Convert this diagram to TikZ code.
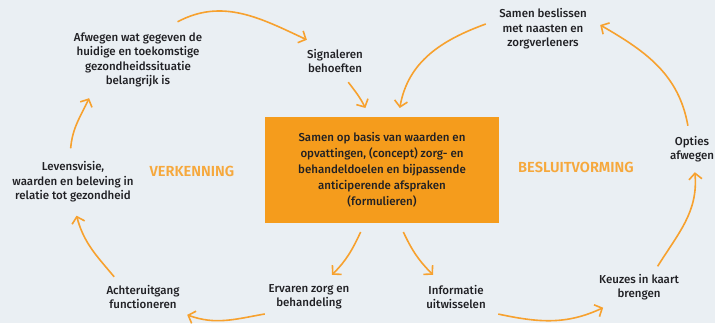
\documentclass[tikz,border=0pt]{standalone}
\usepackage{fontspec}
\setmainfont{Fira Sans}[UprightFont={* Medium}, BoldFont={* SemiBold}]
\usetikzlibrary{arrows.meta}
\definecolor{achtergrond}{HTML}{EAEFF3}
\definecolor{oranje}{HTML}{F59C1C}
\definecolor{pijlkleur}{HTML}{F7A12E}
\definecolor{tekst}{HTML}{202024}
\definecolor{fasekleur}{HTML}{F6A83C}

\begin{document}
\begin{tikzpicture}[x=1bp,y=1bp,
  stap/.style={align=center, inner sep=0pt, text=tekst, font=\fontsize{11.5bp}{14.5bp}\selectfont},
  fase/.style={text=fasekleur, font=\fontsize{14.6bp}{15bp}\selectfont\bfseries},
  pijl/.style={draw=pijlkleur, line width=1.6bp, -{Straight Barb[length=6bp,width=13bp]}}]
\useasboundingbox[fill=achtergrond] (0,0) rectangle (715,323);
% kern in het midden
\node[stap, fill=oranje, minimum width=234bp, minimum height=106bp, outer sep=9bp, font=\fontsize{11.5bp}{16bp}\selectfont] (kern) at (382,153)
  {Samen op basis van waarden en\\opvattingen, (concept) zorg- en\\behandeldoelen en bijpassende\\anticiperende afspraken\\(formulieren)};
% stappen rond de kern
\node[stap, minimum width=150bp, minimum height=76bp] (afwegen) at (138,263) {Afwegen wat gegeven de\\huidige en toekomstige\\gezondheidssituatie\\belangrijk is};
\node[stap, minimum width=60bp, minimum height=42bp] (signaleren) at (335,262) {Signaleren\\behoeften};
\node[stap, minimum width=114bp, minimum height=44bp] (samen) at (543,294) {Samen beslissen\\met naasten en\\zorgverleners};
\node[stap, minimum width=50bp, minimum height=46bp] (opties) at (692,174) {Opties\\afwegen};
\node[stap, minimum width=130bp, minimum height=67bp] (levensvisie) at (73,141) {Levensvisie,\\waarden en beleving in\\relatie tot gezondheid};
\node[stap, minimum width=88bp, minimum height=40bp] (achteruitgang) at (143,26) {Achteruitgang\\functioneren};
\node[stap, minimum width=88bp, minimum height=44bp] (ervaren) at (309,26) {Ervaren zorg en\\behandeling};
\node[stap, minimum width=84bp, minimum height=44bp] (informatie) at (456,26) {Informatie\\uitwisselen};
\node[stap, minimum width=80bp, minimum height=41bp] (keuzes) at (639,36) {Keuzes in kaart\\brengen};
% fasen
\node[fase] (verkenning) at (192,152) {VERKENNING};
\node[fase] (besluitvorming) at (576,156) {BESLUITVORMING};
% pijlen
\draw[pijl] (afwegen.44) to[out=28,in=155] (signaleren.143);
\draw[pijl] (signaleren.-58) to[out=-52,in=117] (kern.105);
\draw[pijl] (samen.175) to[out=200,in=80] (kern.74);
\draw[pijl] (opties.100) to[out=100,in=-30] (samen.4);
\draw[pijl] (keuzes.48) to[out=58,in=-85] (opties.-83);
\draw[pijl] (informatie.-22) to[out=-12,in=205] (keuzes.210);
\draw[pijl] (kern.-71) to[out=-65,in=135] (informatie.136);
\draw[pijl] (kern.-109) to[out=-115,in=45] (ervaren.44);
\draw[pijl] (ervaren.201) to[out=190,in=-20] (achteruitgang.-22);
\draw[pijl] (achteruitgang.145) to[out=130,in=-75] (levensvisie.-84);
\draw[pijl] (levensvisie.94) to[out=85,in=-115] (afwegen.218);
\end{tikzpicture}
\end{document}
